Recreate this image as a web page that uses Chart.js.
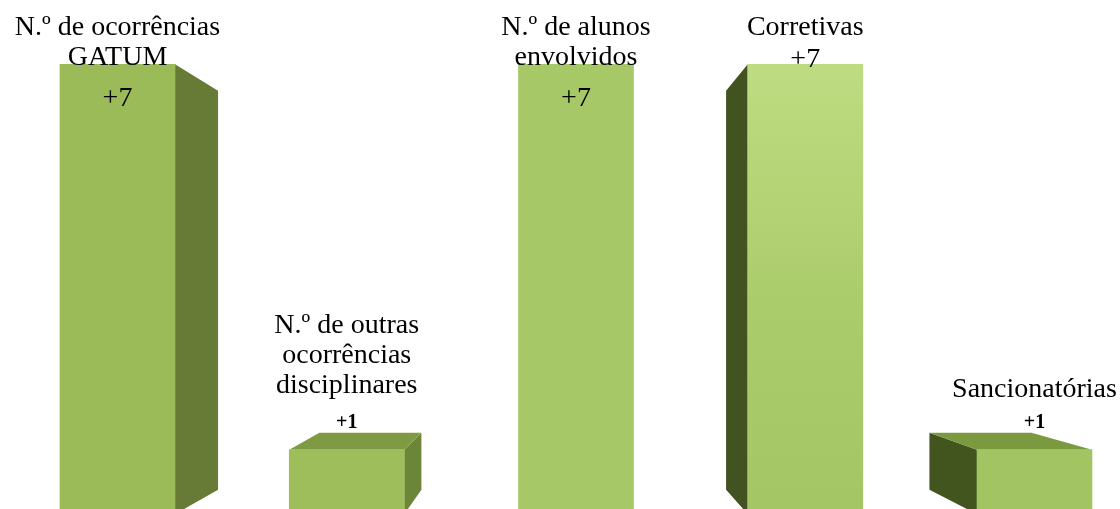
<!DOCTYPE html>
<html>
<head>
<meta charset="utf-8">
<script src="https://cdn.jsdelivr.net/npm/chart.js@4.4.1/dist/chart.umd.min.js"></script>
<style>
  html, body { margin: 0; padding: 0; background: #ffffff; }
  #wrap { width: 1120px; height: 509px; }
</style>
</head>
<body>
<div id="wrap"><canvas id="grafico"></canvas></div>
<script>
// Categorias (uma linha por elemento do array interno)
const categorias = [
    ['N.º de ocorrências', 'GATUM'],
    ['N.º de outras', 'ocorrências', 'disciplinares'],
    ['N.º de alunos', 'envolvidos'],
    ['Corretivas'],
    ['Sancionatórias']
];
const valores = [7, 1, 7, 7, 1];
const rotulosValor = valores.map(v => '+' + v);

// Cores das faces
const coresFrente = ['#9bbb59', '#9ebe5c', '#a7c866', null, '#a3c462'];
const coresLado = ['#677b36', '#6b8539', null, '#425221', '#43551f'];
const coresTopo = ['#7e9b43', '#7e9b43', '#7e9b43', '#7e9b43', '#7b9a40'];

// Posição dos rótulos em relação ao topo da barra (px)
const deslocCategoria = [1, -57, 1, -29, -53];
const deslocValor = [42, -22, 42, 3, -22];

// Desenha as faces laterais e de topo em perspectiva
const barras3D = {
    id: 'barras3D',
    beforeDatasetsDraw(chart, args, opts) {
        const ctx = chart.ctx;
        const meta = chart.getDatasetMeta(0);
        const base = chart.scales.y.getPixelForValue(0);
        const fx = opts.fugaX, fy = opts.fugaY, s = opts.escala;
        const proj = (x, y) => [fx + s * (x - fx), fy + s * (y - fy)];

        meta.data.forEach((bar, i) => {
            const esq = bar.x - bar.width / 2;
            const dir = bar.x + bar.width / 2;
            const topo = bar.y;
            ctx.save();

            // face lateral
            let xs = null;
            if (dir < fx) xs = dir;
            else if (esq > fx) xs = esq;
            if (xs !== null) {
                const a = proj(xs, topo), b = proj(xs, base);
                ctx.fillStyle = coresLado[i];
                ctx.beginPath();
                ctx.moveTo(xs, topo);
                ctx.lineTo(a[0], a[1]);
                ctx.lineTo(b[0], b[1]);
                ctx.lineTo(xs, base);
                ctx.closePath();
                ctx.fill();
            }

            // face de topo (só quando fica abaixo do ponto de fuga)
            if (topo > fy) {
                const a = proj(esq, topo), b = proj(dir, topo);
                ctx.fillStyle = coresTopo[i];
                ctx.beginPath();
                ctx.moveTo(esq, topo);
                ctx.lineTo(a[0], a[1]);
                ctx.lineTo(b[0], b[1]);
                ctx.lineTo(dir, topo);
                ctx.closePath();
                ctx.fill();
            }
            ctx.restore();
        });
    }
};

// Rótulos de categoria e de valor
const rotulos = {
    id: 'rotulos',
    afterDatasetsDraw(chart) {
        const ctx = chart.ctx;
        const meta = chart.getDatasetMeta(0);
        ctx.save();
        ctx.fillStyle = '#000000';
        ctx.textAlign = 'center';
        ctx.textBaseline = 'alphabetic';
        meta.data.forEach((bar, i) => {
            const linhas = categorias[i];
            const ultima = bar.y + deslocCategoria[i];
            ctx.font = '28px "Liberation Serif"';
            linhas.forEach((txt, j) => {
                ctx.fillText(txt, bar.x, ultima - (linhas.length - 1 - j) * 30);
            });
            ctx.font = valores[i] === 1 ? 'bold 20px "Liberation Serif"' : '28px "Liberation Serif"';
            ctx.fillText(rotulosValor[i], bar.x, bar.y + deslocValor[i]);
        });
        ctx.restore();
    }
};

const ctx = document.getElementById('grafico').getContext('2d');

new Chart(ctx, {
    type: 'bar',
    data: {
        labels: categorias,
        datasets: [{
            data: valores,
            backgroundColor: function (c) {
                if (c.dataIndex !== 3) return coresFrente[c.dataIndex];
                const area = c.chart.chartArea;
                if (!area) return '#b5d474';
                const g = c.chart.ctx.createLinearGradient(0, area.top, 0, area.bottom);
                g.addColorStop(0, '#c3e087');
                g.addColorStop(0.6, '#abcc6b');
                g.addColorStop(1, '#a5c665');
                return g;
            },
            borderWidth: 0,
            barThickness: 115,
            clip: false
        }]
    },
    options: {
        responsive: true,
        maintainAspectRatio: false,
        animation: false,
        layout: {
            padding: { left: 117.5, right: 85.5, top: 0, bottom: 0 }
        },
        scales: {
            x: { display: false, offset: false },
            y: { display: false, min: 0.08, max: 8 }
        },
        plugins: {
            legend: { display: false },
            tooltip: { enabled: false },
            barras3D: { fugaX: 556, fugaY: 299, escala: 0.887 }
        }
    },
    plugins: [barras3D, rotulos]
});
</script>
</body>
</html>
